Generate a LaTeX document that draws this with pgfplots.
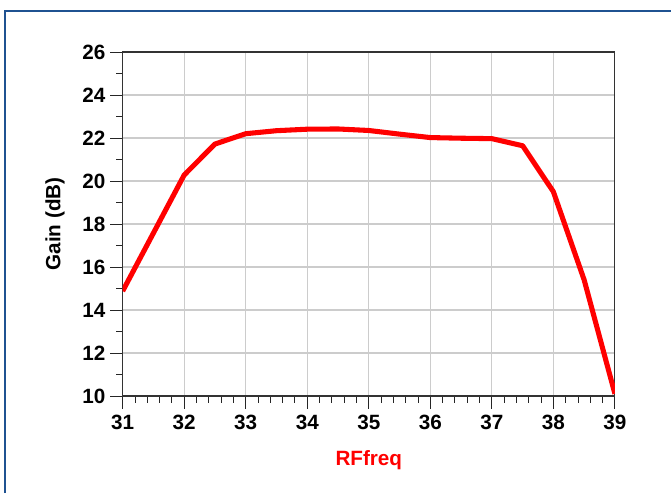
\documentclass[border=0pt]{standalone}
\usepackage{fontspec}
\setmainfont{Liberation Sans}
\usepackage{pgfplots}
\pgfplotsset{compat=1.18}
\definecolor{frameblue}{RGB}{31,82,145}
\begin{document}
\begin{tikzpicture}
% page = 671x493 px at 0.75pt/px
\path[use as bounding box] (0pt,0pt) rectangle (503.25pt,-369.75pt);
\draw[frameblue, line width=1.7pt] (3.6pt,-369.75pt) -- (3.6pt,-8.2pt) -- (503.25pt,-8.2pt);
\begin{axis}[
    at={(92pt,-297pt)}, anchor=south west,
    scale only axis,
    width=369.2pt, height=258pt,
    xmin=31, xmax=39, ymin=10, ymax=26,
    xtick={31,...,39}, ytick={10,12,...,26},
    minor x tick num=4, minor y tick num=1,
    xtick pos=bottom, ytick pos=left,
    tick align=outside,
    major tick length=9.5pt, minor tick length=5pt,
    tick style={black!85, line width=0.7pt},
    grid=major,
    major grid style={gray!40, line width=0.8pt},
    axis line style={black!80, line width=0.8pt},
    /pgf/number format/assume math mode=true,
    ticklabel style={font=\bfseries\fontsize{15.5}{16}\selectfont},
    xticklabel style={yshift=-1pt},
    xlabel={RFfreq},
    ylabel={Gain (dB)},
    label style={font=\bfseries\fontsize{15.5}{16}\selectfont},
    xlabel style={at={(axis description cs:0.5,0)}, anchor=center, yshift=-48pt, red},
    ylabel style={at={(axis description cs:0,0.5)}, anchor=center, yshift=50.8pt},
]
\addplot[red, line width=3.8pt, line join=round] coordinates {
    (31,14.88) (32,20.28) (32.5,21.72) (33,22.2) (33.5,22.34) (34,22.41)
    (34.5,22.42) (35,22.35) (35.5,22.18) (36,22.02) (36.5,21.99) (37,21.97)
    (37.5,21.64) (38,19.5) (38.5,15.4) (39,10.1)
};
\end{axis}
\end{tikzpicture}
\end{document}
